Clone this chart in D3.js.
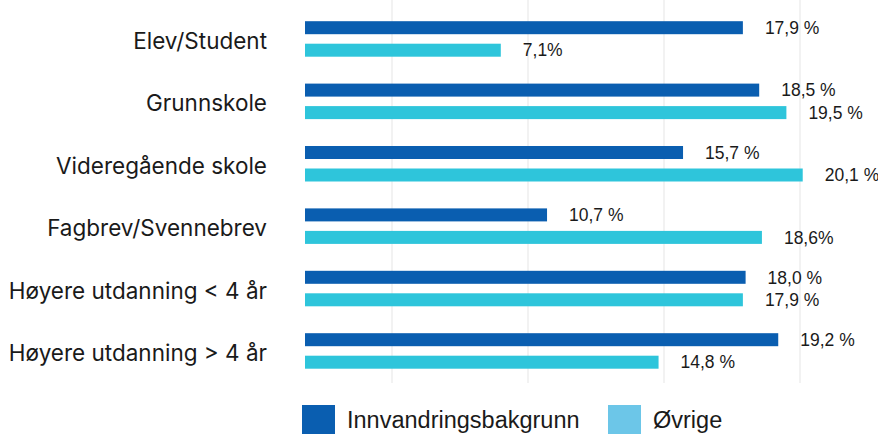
<!DOCTYPE html>
<html>
<head>
<meta charset="utf-8">
<script src="https://cdn.jsdelivr.net/npm/d3@7"></script>
<style>
  body { margin: 0; background: #fff; }
  svg { display: block; }
</style>
</head>
<body>
<script>
// data
var categories = ["Elev/Student", "Grunnskole", "Videregående skole", "Fagbrev/Svennebrev",
                  "Høyere utdanning < 4 år", "Høyere utdanning > 4 år"];
var series = ["Innvandringsbakgrunn", "Øvrige"];
// bar lengths as drawn (the 7,1 bar is drawn longer than its label in the original)
var innvandring = [17.9, 18.5, 15.7, 10.7, 18.0, 19.2];
var ovrige = [9.0, 19.5, 20.1, 18.6, 17.9, 14.8];
var innvandringLabels = ["17,9 %", "18,5 %", "15,7 %", "10,7 %", "18,0 %", "19,2 %"];
var ovrigeLabels = ["7,1%", "19,5 %", "20,1 %", "18,6%", "17,9 %", "14,8 %"];
var gridTicks = [5, 10, 15, 20];

var W = 878, H = 434;
var barColors = ["#0A5EB0", "#2EC5DB"];
var legendColors = ["#0A5EB0", "#6CC6E8"];
var plotLeft = 305;

var svg = d3.select("body").append("svg")
	.attr("width", W)
	.attr("height", H);

var x = d3.scaleLinear().domain([0, 20]).range([256, 800]);
var y0 = d3.scaleBand().domain(categories).range([7.7, 382.1]);
var y1 = d3.scaleBand().domain(series).range([13.5, 49]).paddingInner(0.4222);

// grid
svg.append("g").selectAll("line")
	.data(gridTicks)
	.enter().append("line")
	.attr("x1", function (d) { return x(d); })
	.attr("x2", function (d) { return x(d); })
	.attr("y1", 0)
	.attr("y2", 383)
	.attr("stroke", "#e9e9e9")
	.attr("stroke-width", 1.2);

// bars get cut at the left edge of the plot, like the original
svg.append("clipPath").attr("id", "plotclip")
	.append("rect")
	.attr("x", plotLeft).attr("y", 0)
	.attr("width", W - plotLeft).attr("height", H);

var rows = categories.map(function (c, i) {
	return [
		{ cat: c, s: series[0], v: innvandring[i], lab: innvandringLabels[i], k: 0 },
		{ cat: c, s: series[1], v: ovrige[i], lab: ovrigeLabels[i], k: 1 }
	];
});

var groups = svg.append("g").selectAll("g")
	.data(rows)
	.enter().append("g")
	.attr("transform", function (d) { return "translate(0," + y0(d[0].cat) + ")"; });

groups.selectAll("rect")
	.data(function (d) { return d; })
	.enter().append("rect")
	.attr("clip-path", "url(#plotclip)")
	.attr("x", x(0))
	.attr("y", function (d) { return y1(d.s); })
	.attr("width", function (d) { return x(d.v) - x(0); })
	.attr("height", y1.bandwidth())
	.attr("fill", function (d) { return barColors[d.k]; });

groups.selectAll("text.val")
	.data(function (d) { return d; })
	.enter().append("text")
	.attr("class", "val")
	.attr("x", function (d) { return x(d.v) + 22; })
	.attr("y", function (d) { return y1(d.s) + y1.bandwidth() / 2; })
	.attr("dy", "0.36em")
	.attr("font-family", "'Liberation Sans', Arial, sans-serif")
	.attr("font-size", 17.5)
	.attr("fill", "#1a1a1a")
	.text(function (d) { return d.lab; });

// category labels
svg.append("g").selectAll("text")
	.data(categories)
	.enter().append("text")
	.attr("x", 267)
	.attr("y", function (d) { return y0(d) + y0.bandwidth() / 2 + 2; })
	.attr("dy", "0.36em")
	.attr("text-anchor", "end")
	.attr("font-family", "Inter, 'Noto Sans', sans-serif")
	.attr("font-size", 22.5)
	.attr("fill", "#1a1a1a")
	.text(function (d) { return d; });

// legend, squares run off the bottom edge like the original
var legendX = [302, 608];
var legend = svg.append("g").selectAll("g")
	.data(series)
	.enter().append("g")
	.attr("transform", function (d, i) { return "translate(" + legendX[i] + ",405)"; });

legend.append("rect")
	.attr("width", 33)
	.attr("height", 34)
	.attr("fill", function (d, i) { return legendColors[i]; });

legend.append("text")
	.attr("x", 45)
	.attr("y", 23)
	.attr("font-family", "'Liberation Sans', Arial, sans-serif")
	.attr("font-size", 23.5)
	.attr("fill", "#1a1a1a")
	.text(function (d) { return d; });
</script>
</body>
</html>
